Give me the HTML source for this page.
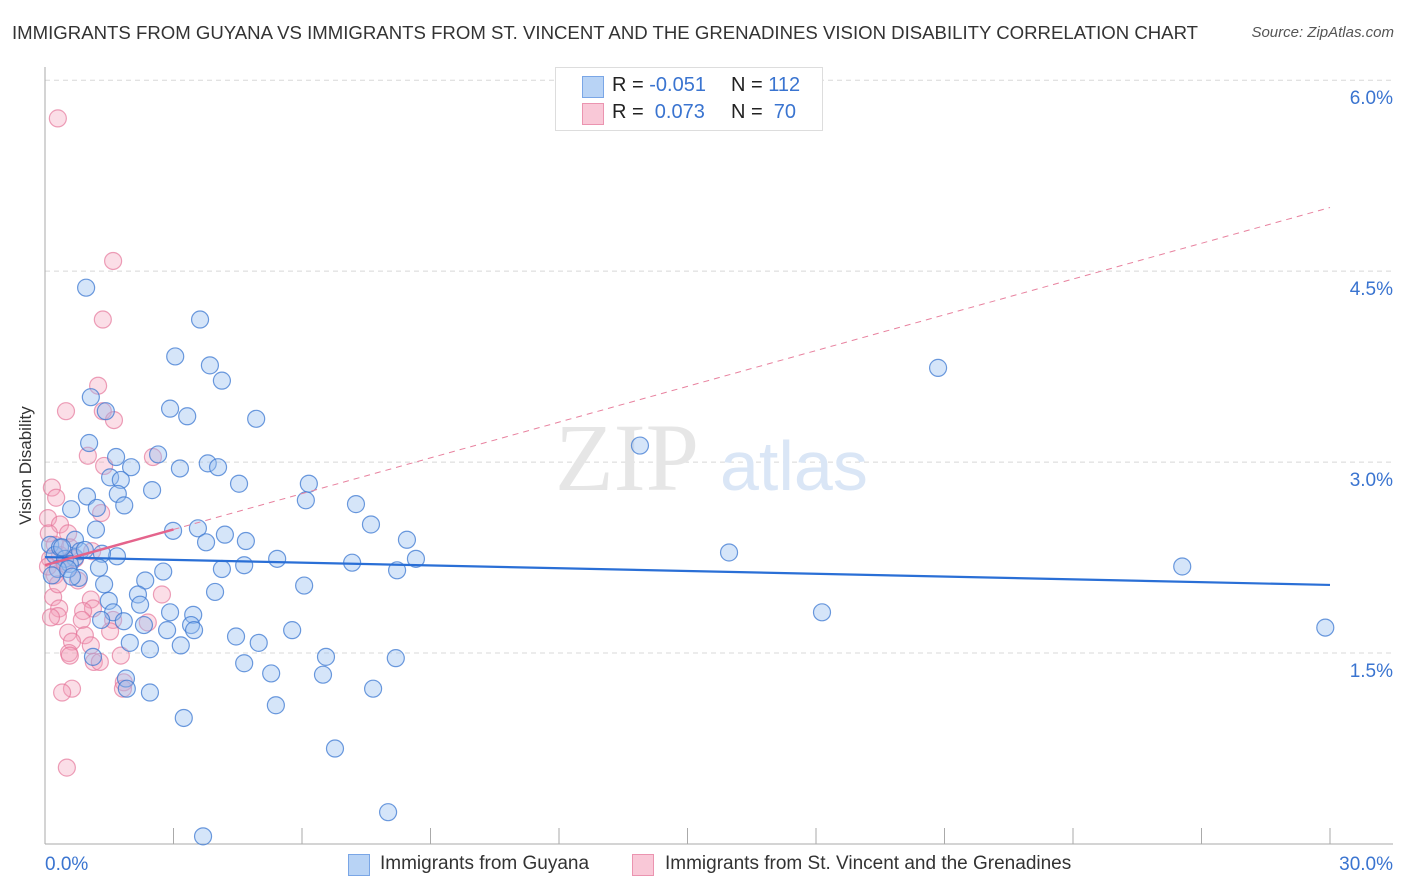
<!DOCTYPE html>
<html><head><meta charset="utf-8">
<style>
body{margin:0;background:#fff;font-family:"Liberation Sans",sans-serif;}
#wrap{position:relative;width:1406px;height:892px;overflow:hidden;}
.t{position:absolute;white-space:nowrap;}
</style></head><body>
<div id="wrap">
<div class="t" style="left:12px;top:22px;font-size:18.6px;color:#333;">IMMIGRANTS FROM GUYANA VS IMMIGRANTS FROM ST. VINCENT AND THE GRENADINES VISION DISABILITY CORRELATION CHART</div>
<div class="t" style="right:12px;top:24px;font-size:15px;color:#555;font-style:italic;">Source: ZipAtlas.com</div>
<div class="t" style="left:16px;font-size:17px;color:#333;transform:rotate(-90deg);transform-origin:0 0;top:525px;">Vision Disability</div>
<svg id="svg" width="1406" height="892" style="position:absolute;left:0;top:0"></svg>
<div class="t" style="left:555px;top:67px;width:266px;height:62px;border:1px solid #ddd;background:#fff;font-size:20px;">
 <div style="position:absolute;left:26px;top:8px;width:20px;height:20px;background:#b8d3f5;border:1px solid #7aa6e6;"></div>
 <div style="position:absolute;left:56px;top:6px;color:#222;">R = <span style="color:#3a74d0">-0.051</span></div>
 <div style="position:absolute;left:175px;top:6px;color:#222;">N = <span style="color:#3a74d0">112</span></div>
 <div style="position:absolute;left:26px;top:35px;width:20px;height:20px;background:#f9c8d7;border:1px solid #eb94b0;"></div>
 <div style="position:absolute;left:56px;top:33px;color:#222;">R = &nbsp;<span style="color:#3a74d0">0.073</span></div>
 <div style="position:absolute;left:175px;top:33px;color:#222;">N = &nbsp;<span style="color:#3a74d0">70</span></div>
</div>
<div class="t" style="left:348px;top:854px;width:20px;height:20px;background:#b8d3f5;border:1px solid #7aa6e6;"></div>
<div class="t" style="left:380px;top:853px;font-size:19px;color:#333;">Immigrants from Guyana</div>
<div class="t" style="left:632px;top:854px;width:20px;height:20px;background:#f9c8d7;border:1px solid #eb94b0;"></div>
<div class="t" style="left:665px;top:853px;font-size:19px;color:#333;">Immigrants from St. Vincent and the Grenadines</div>
</div>
<script>
const xTickLabels=["0.0%","30.0%"];
const yTicks=[1.5,3.0,4.5,6.0];
const yTickLabels=["1.5%","3.0%","4.5%","6.0%"];
const blueTrend=[2.254,2.035];
const pinkTrend=[2.19,5.0];
const pinkSolidEnd=3;
const blueX=[0.96,3.62,3.04,3.85,4.13,1.07,2.92,3.32,4.93,1.42,1.03,2.64,1.66,2.01,3.15,3.80,4.04,1.52,1.77,4.53,6.16,2.50,1.70,0.98,6.09,1.85,0.61,7.26,1.21,7.61,1.19,3.57,2.99,4.20,3.76,4.69,8.45,1.68,0.70,1.33,5.42,8.66,7.17,4.65,4.13,8.22,1.26,2.76,2.34,0.79,1.38,6.05,3.97,2.17,1.49,2.22,1.59,2.92,3.46,1.31,1.84,3.41,2.31,2.85,3.48,5.77,4.46,3.17,1.98,2.45,4.99,1.12,6.56,8.19,4.65,5.28,6.49,1.89,1.91,2.45,7.66,5.39,3.24,6.77,8.01,3.69,20.85,13.89,15.97,26.55,18.14,29.89,0.12,0.23,0.35,0.47,0.58,0.30,0.70,0.40,0.82,0.16,0.93,0.54,0.63];
const blueY=[4.37,4.12,3.83,3.76,3.64,3.51,3.42,3.36,3.34,3.40,3.15,3.06,3.04,2.96,2.95,2.99,2.96,2.88,2.86,2.83,2.83,2.78,2.75,2.73,2.70,2.66,2.63,2.67,2.64,2.51,2.47,2.48,2.46,2.43,2.37,2.38,2.39,2.26,2.25,2.28,2.24,2.24,2.21,2.19,2.16,2.15,2.17,2.14,2.07,2.09,2.04,2.03,1.98,1.96,1.91,1.88,1.82,1.82,1.80,1.76,1.75,1.72,1.72,1.68,1.68,1.68,1.63,1.56,1.58,1.53,1.58,1.47,1.47,1.46,1.42,1.34,1.33,1.30,1.22,1.19,1.22,1.09,0.99,0.75,0.25,0.06,3.74,3.13,2.29,2.18,1.82,1.70,2.35,2.27,2.33,2.24,2.20,2.16,2.39,2.33,2.30,2.11,2.31,2.16,2.10];
const pinkX=[0.30,1.59,1.35,1.24,1.35,0.49,1.61,1.00,1.38,2.52,0.16,0.26,0.07,1.31,0.35,0.54,0.09,1.10,0.47,0.23,0.77,2.73,0.19,0.33,1.07,1.12,0.89,2.40,0.30,0.14,0.86,1.59,1.52,0.54,0.93,0.63,0.56,0.58,1.07,1.77,1.14,1.28,1.84,1.82,0.63,0.40,0.51,0.23,0.35,0.47,0.12,0.70,0.58,0.07,0.30];
const pinkY=[5.70,4.58,4.12,3.60,3.40,3.40,3.33,3.05,2.97,3.04,2.80,2.72,2.56,2.60,2.51,2.44,2.44,2.30,2.22,2.11,2.07,1.96,1.94,1.85,1.92,1.85,1.83,1.74,1.79,1.78,1.76,1.76,1.67,1.66,1.64,1.59,1.50,1.48,1.56,1.48,1.43,1.43,1.27,1.22,1.22,1.19,0.60,2.35,2.27,2.20,2.24,2.24,2.33,2.18,2.04];
const NS="http://www.w3.org/2000/svg";
const svg=document.getElementById('svg');
const X0=45,X1=1330,Y0=844;
function sx(v){return X0+(X1-X0)*v/30;}
function sy(v){return Y0-v*127.3;}
function mk(tag,attrs){const e=document.createElementNS(NS,tag);for(const k in attrs)e.setAttribute(k,attrs[k]);svg.appendChild(e);return e;}
let e;
yTicks.forEach((t,i)=>{
 e=mk('line',{x1:45,x2:1393,y1:sy(t),y2:sy(t),stroke:'#d8d8d8','stroke-dasharray':'5,4'});
 
 
 e=mk('text',{x:1393,y:sy(t)+24,'text-anchor':'end','font-size':19,fill:'#3a74d0','font-family':'Liberation Sans'});
 e.textContent=yTickLabels[i];
 
 
});
e=mk('line',{x1:45,x2:45,y1:67,y2:844,stroke:'#aaa'});


e=mk('line',{x1:45,x2:1393,y1:844,y2:844,stroke:'#aaa'});


for(let i=1;i<=10;i++){
 e=mk('line',{x1:sx(i*3),x2:sx(i*3),y1:828,y2:844,stroke:'#aaa'});
 
 
}
[[0,'start',45],[30,'end',1393]].forEach((d,i)=>{
 e=mk('text',{x:d[2],y:870,'text-anchor':d[1],'font-size':19,fill:'#3a74d0','font-family':'Liberation Sans'});
 e.textContent=xTickLabels[i];
 
 
});
e=mk('text',{x:555,y:490,'font-size':96,fill:'#e6e6e6','font-family':'Liberation Serif'});
e.textContent='ZIP';


e=mk('text',{x:720,y:490,'font-size':70,fill:'#dae6f6','font-family':'Liberation Sans'});
e.textContent='atlas';


for(let i=0;i<pinkX.length;i++){
 e=mk('circle',{cx:sx(pinkX[i]),cy:sy(pinkY[i]),r:8.5,fill:'rgba(244,160,185,0.35)',stroke:'rgba(230,120,155,0.7)','stroke-width':1.2});
 
 
}
for(let i=0;i<blueX.length;i++){
 e=mk('circle',{cx:sx(blueX[i]),cy:sy(blueY[i]),r:8.5,fill:'rgba(150,190,240,0.4)',stroke:'rgba(60,120,210,0.75)','stroke-width':1.2});
 
 
}
e=mk('line',{x1:sx(0),y1:sy(blueTrend[0]),x2:sx(30),y2:sy(blueTrend[1]),stroke:'#2a6fd6','stroke-width':2.2});


const pAt=v=>pinkTrend[0]+(pinkTrend[1]-pinkTrend[0])*v/30;
e=mk('line',{x1:sx(pinkSolidEnd),y1:sy(pAt(pinkSolidEnd)),x2:sx(30),y2:sy(pinkTrend[1]),stroke:'#e8829f','stroke-width':1,'stroke-dasharray':'6,5'});


e=mk('line',{x1:sx(0),y1:sy(pinkTrend[0]),x2:sx(pinkSolidEnd),y2:sy(pAt(pinkSolidEnd)),stroke:'#e4648c','stroke-width':2.5});


</script>
</body></html>
